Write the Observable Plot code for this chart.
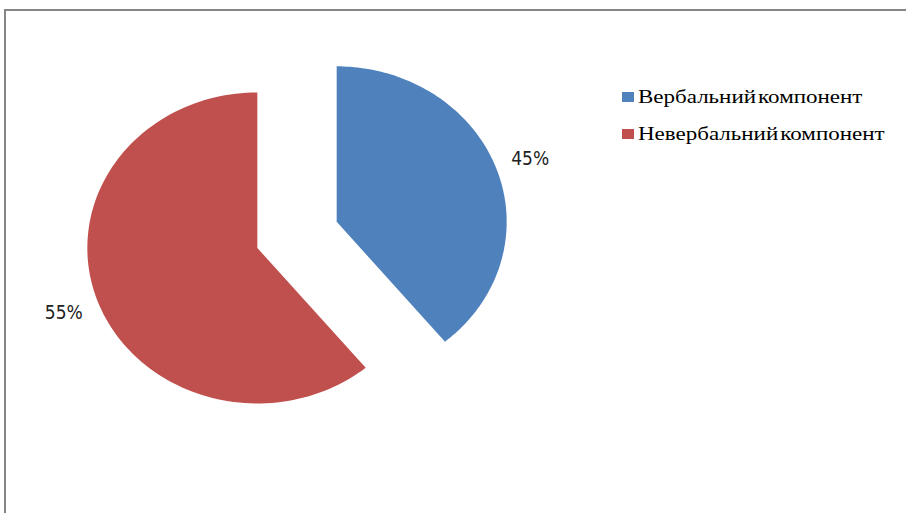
<!DOCTYPE html>
<html>
<head>
<meta charset="utf-8">
<script src="https://cdn.jsdelivr.net/npm/d3@7"></script>
<script src="https://cdn.jsdelivr.net/npm/@observablehq/plot@0.6"></script>
<style>
  html, body { margin: 0; padding: 0; background: #fff; overflow: hidden; }
  #wrap { position: relative; width: 906px; height: 513px; }
  #frame { position: absolute; left: 4px; top: 9px; width: 1000px; height: 1000px;
           border-top: 2px solid #868686; border-left: 2px solid #868686; box-sizing: border-box; }
  #chart { position: absolute; left: 0; top: 0; }
  #legend { position: absolute; left: 622px; top: 78px; font-family: "Liberation Serif", "Times New Roman", serif;
            font-size: 19px; color: #000; }
  #legend .item { display: flex; align-items: center; height: 37px; white-space: nowrap; }
  #legend .sw { width: 12px; height: 10px; margin-right: 4px; flex: none; }
  #legend .lab { display: inline-block; transform-origin: left center; transform: scaleX(1.21); word-spacing: -3px; }
</style>
</head>
<body>
<div id="wrap">
  <div id="frame"></div>
  <div id="chart"></div>
  <div id="legend"></div>
</div>
<script>
// Data
const categories = ["Вербальний компонент", "Невербальний компонент"];
const values = [39, 61];            // slice sizes as drawn
const labels = ["45%", "55%"];      // data labels as printed
const colors = ["#4F81BD", "#C0504D"];

const explode = 0.248;   // explosion offset (radius units)
const labelR = 1.21;     // label distance (radius units)

const arcs = d3.pie().sort(null).value(d => d)(values);

const polys = [];
const labelPts = [];
arcs.forEach((a, i) => {
  const mid = (a.startAngle + a.endAngle) / 2;
  const ox = explode * Math.sin(mid), oy = explode * Math.cos(mid);
  const n = 120;
  polys.push({k: categories[i], x: ox, y: oy});
  for (let j = 0; j <= n; j++) {
    const t = a.startAngle + (a.endAngle - a.startAngle) * j / n;
    polys.push({k: categories[i], x: ox + Math.sin(t), y: oy + Math.cos(t)});
  }
  polys.push({k: categories[i], x: ox, y: oy});
  labelPts.push({k: categories[i], text: labels[i], x: ox + labelR * Math.sin(mid), y: oy + labelR * Math.cos(mid)});
});

const W = 906, H = 513;
const cx = 296.5, cy = 234.4, rx = 170, ry = 155.5;

const chart = Plot.plot({
  width: W, height: H,
  margin: 0,
  x: {type: "linear", domain: [(0 - cx) / rx, (W - cx) / rx], range: [0, W], axis: null},
  y: {type: "linear", domain: [(cy - H) / ry, cy / ry], range: [H, 0], axis: null},
  color: {domain: categories, range: colors},
  style: {background: "transparent", fontStretch: "condensed"},
  marks: [
    Plot.line(polys, {x: "x", y: "y", z: "k", fill: "k", stroke: "none", curve: "linear"}),
    Plot.text(labelPts, {x: "x", y: "y", text: "text", fontSize: 19, fill: "#222", dy: 1,
      fontFamily: "DejaVu Sans Condensed, DejaVu Sans, sans-serif", textAnchor: "middle"})
  ]
});
document.getElementById("chart").appendChild(chart);

const leg = document.getElementById("legend");
categories.forEach((c, i) => {
  const item = document.createElement("div");
  item.className = "item";
  const sw = document.createElement("span");
  sw.className = "sw";
  sw.style.background = colors[i];
  const lab = document.createElement("span");
  lab.className = "lab";
  lab.textContent = c;
  item.appendChild(sw);
  item.appendChild(lab);
  leg.appendChild(item);
});
</script>
</body>
</html>
